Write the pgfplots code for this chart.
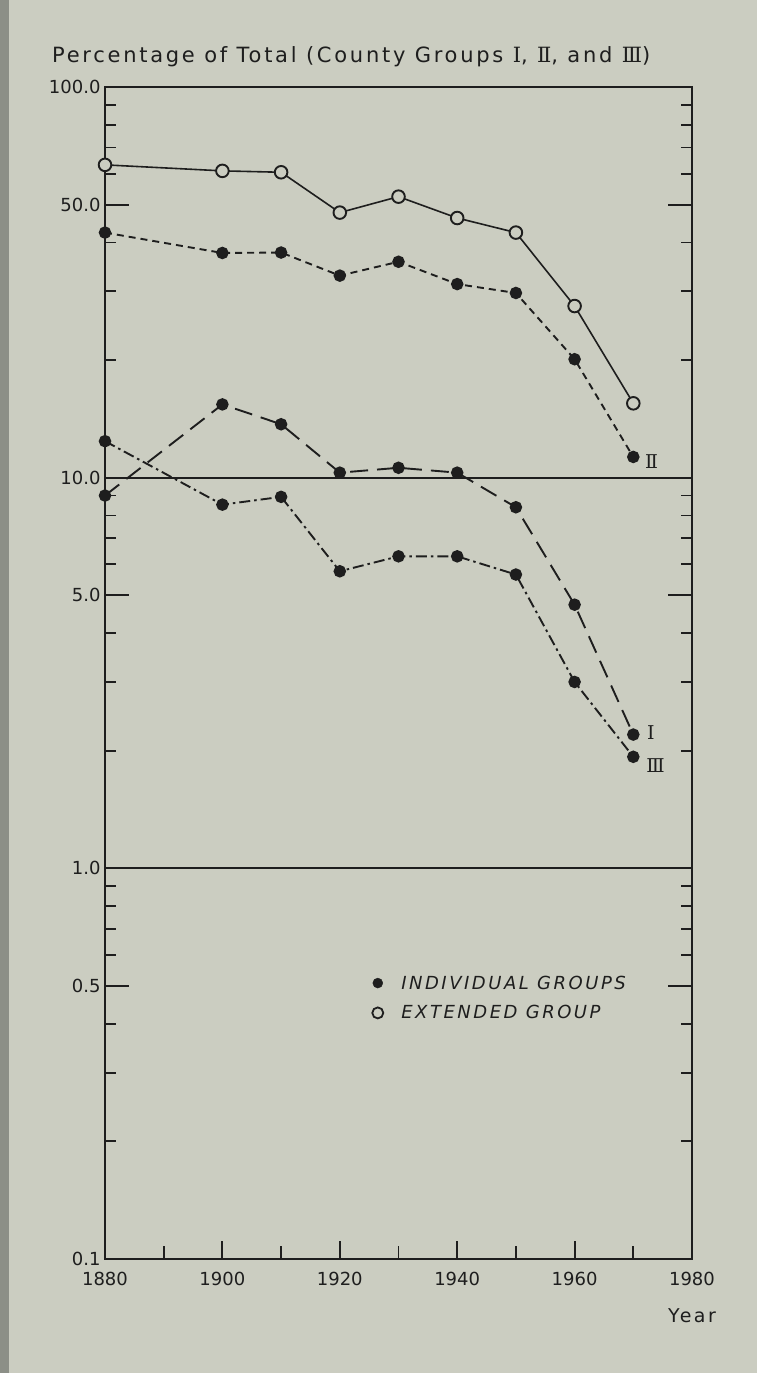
\documentclass[border=0pt]{standalone}
\usepackage{fontspec}
\setmainfont{DejaVu Sans}
\newfontfamily\titlefont{DejaVu Sans}[LetterSpace=13]
\newfontfamily\legfont{DejaVu Sans}[LetterSpace=14]
\newfontfamily\numfont{DejaVu Serif}
\usepackage{pgfplots}
\pgfplotsset{compat=1.18}
\definecolor{paper}{RGB}{203,205,193}
\definecolor{ink}{RGB}{30,30,30}
\definecolor{edge}{RGB}{140,143,135}
% legend entry: a single mark with room after it
\pgfplotsset{dotlegend/.style={legend image code/.code={%
  \path[draw=none, fill=none] (0bp,0bp) -- (34bp,0bp);
  \draw[##1] plot coordinates {(12.5bp,0bp)};}}}

\begin{document}
\begin{tikzpicture}
\fill[paper] (0bp,0bp) rectangle (757bp,1373bp);
\fill[edge] (0bp,0bp) rectangle (9bp,1373bp);
\useasboundingbox (0bp,0bp) rectangle (757bp,1373bp);

\node[anchor=base west, inner sep=0pt, text=ink,
      font=\titlefont\fontsize{21bp}{23bp}\selectfont]
  at (52bp,1310bp) {Percentage of Total (County Groups {\numfont Ⅰ}, {\numfont Ⅱ}, and {\numfont Ⅲ})};

\begin{axis}[
  at={(105bp,114bp)}, anchor=south west,
  scale only axis, width=587bp, height=1172bp,
  xmin=1880, xmax=1980,
  ymode=log, ymin=0.1, ymax=100,
  axis line style={ink, line width=1.9bp},
  every tick/.style={ink, line width=1.9bp},
  tick align=inside,
  major tick length=18bp, minor tick length=11bp,
  % labelled years along the bottom
  xtick={1880,1900,...,1980},
  xticklabels={1880,1900,1920,1940,1960,1980},
  xtick pos=bottom,
  % unlabelled decade ticks in between
  extra x ticks={1890,1910,...,1970},
  extra x tick labels={},
  extra x tick style={major tick length=13bp},
  % full-width rules at 1 and 10
  ytick={1,10},
  yticklabels={1.0,10.0},
  ymajorgrids,
  major grid style={ink, line width=1.9bp},
  % labelled ticks within each decade
  extra y ticks={0.1,0.5,5,50,100},
  extra y tick labels={0.1,0.5,5.0,50.0,100.0},
  extra y tick style={major tick length=24bp, grid=none},
  minor ytick={0.2,0.3,0.4,0.6,0.7,0.8,0.9,2,3,4,6,7,8,9,20,30,40,60,70,80,90},
  ticklabel style={font=\fontsize{18bp}{20bp}\selectfont, text=ink},
  xticklabel style={yshift=-10bp},
  yticklabel style={xshift=-1bp},
  xlabel={Year},
  x label style={at={(axis description cs:1,0)}, anchor=center, yshift=-57bp,
                 font=\titlefont\fontsize{19bp}{20bp}\selectfont, text=ink},
  legend style={draw=none, fill=none, at={(axis description cs:0.438,0.2227)},
                anchor=west, row sep=11bp,
                font=\legfont\itshape\fontsize{18bp}{20bp}\selectfont, text=ink},
  legend cell align=left,
]

% extended group (open circles, solid line)
\addplot[forget plot, ink, line width=1.6bp, mark=*, mark size=6.3bp,
         mark options={fill=paper, draw=ink, line width=1.9bp}]
  coordinates {(1880,63.2)(1900,61.0)(1910,60.5)(1920,47.7)(1930,52.4)
               (1940,46.2)(1950,42.4)(1960,27.5)(1970,15.5)};

% group II
\addplot[forget plot, ink, line width=1.9bp, dash pattern=on 7bp off 5bp,
         mark=*, mark size=5.3bp, mark options={solid, fill=ink}]
  coordinates {(1880,42.4)(1900,37.6)(1910,37.7)(1920,32.9)(1930,35.7)
               (1940,31.3)(1950,29.7)(1960,20.1)(1970,11.3)};

% group I
\addplot[forget plot, ink, line width=1.9bp, dash pattern=on 18bp off 9bp,
         mark=*, mark size=5.3bp, mark options={solid, fill=ink}]
  coordinates {(1880,9.0)(1900,15.4)(1910,13.7)(1920,10.3)(1930,10.6)
               (1940,10.3)(1950,8.4)(1960,4.73)(1970,2.2)};

% group III
\addplot[forget plot, ink, line width=1.9bp,
         dash pattern=on 11bp off 4bp on 2.5bp off 4bp,
         mark=*, mark size=5.3bp, mark options={solid, fill=ink}]
  coordinates {(1880,12.4)(1900,8.53)(1910,8.93)(1920,5.76)(1930,6.29)
               (1940,6.29)(1950,5.65)(1960,3.0)(1970,1.93)};

\addlegendimage{only marks, mark=*, mark size=5bp, ink, fill=ink, dotlegend}
\addlegendentry{INDIVIDUAL GROUPS}
\addlegendimage{only marks, mark=*, mark size=5.5bp,
  mark options={fill=paper, draw=ink, line width=1.8bp}, dotlegend}
\addlegendentry{EXTENDED GROUP}

\node[text=ink, font=\numfont\fontsize{19bp}{20bp}\selectfont] at (axis cs:1973.1,11.0) {Ⅱ};
\node[text=ink, font=\numfont\fontsize{19bp}{20bp}\selectfont] at (axis cs:1973.0,2.23) {Ⅰ};
\node[text=ink, font=\numfont\fontsize{19bp}{20bp}\selectfont] at (axis cs:1973.8,1.83) {Ⅲ};
\end{axis}
\end{tikzpicture}
\end{document}
